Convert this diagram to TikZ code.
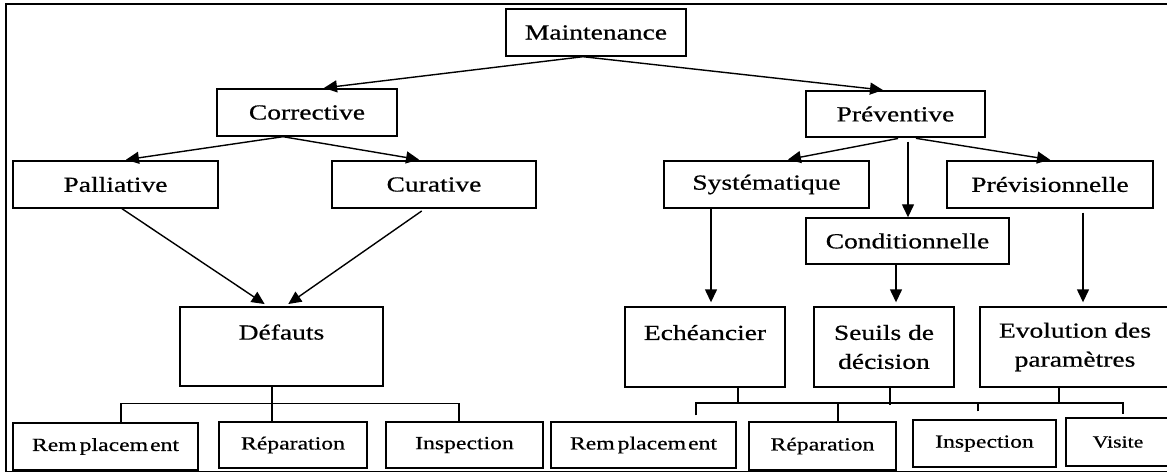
\documentclass[tikz,border=0pt]{standalone}
\usepackage{fontspec}
\setmainfont[FakeStretch=1.28, FakeBold=0.6]{Liberation Serif}
\usetikzlibrary{arrows.meta}
\begin{document}
\begin{tikzpicture}[x=1pt,y=-1pt,
  box/.style={draw, line width=1.4pt, fill=white, inner sep=0pt, align=center,
              font=\fontsize{21.5}{29}\selectfont},
  leaf/.style={box, font=\fontsize{18.5}{22}\selectfont},
  size/.style 2 args={minimum width=#1pt, minimum height=#2pt},
  link/.style={line width=1.4pt},
  arr/.style={link, -{Triangle[length=13pt,width=12pt]}},
]
\clip (0,0) rectangle (1167,473);
% outer frame
\draw[line width=1.8pt] (6,4) rectangle (1190,471.5);

% first levels
\node[box, size={180}{47}] (maint) at (596,32.5) {Maintenance};
\node[box, size={180}{47}] (corr) at (307,112.5) {Corrective};
\node[box, size={179}{46}] (prev) at (895.5,114) {Préventive};
\node[box, size={205}{47}] (pall) at (115.5,184.5) {Palliative};
\node[box, size={204}{47}] (cura) at (434,184.5) {Curative};
\node[box, size={205}{47}] (syst) at (766.5,184.5) {Systématique};
\node[box, size={206}{47}] (previs) at (1050,184.5) {Prévisionnelle};
\node[box, size={203}{46}] (cond) at (907.5,241) {Conditionnelle};

% decision level
\node[box, size={203}{79}] (def) at (281.5,346.5) {Défauts\\\mbox{}};
\node[box, size={160}{80}] (ech) at (705,347) {Echéancier\\\mbox{}};
\node[box, size={140}{80}] (seuil) at (884,347) {Seuils de\\décision};
\node[box, size={190}{80}] (evol) at (1075,347) {Evolution des\\paramètres};

% actions
\node[leaf, size={185}{47}] (rem1) at (105.5,446.5) {Rem\kern3pt placem\kern2pt ent};
\node[leaf, size={148}{46}] (rep1) at (293,445) {Réparation};
\node[leaf, size={157}{46}] (ins1) at (464.5,445) {Inspection};
\node[leaf, size={185}{46}] (rem2) at (643.5,445) {Rem\kern3pt placem\kern2pt ent};
\node[leaf, size={147}{48}] (rep2) at (822.5,446) {Réparation};
\node[leaf, size={143}{47}] (ins2) at (984.5,443.5) {Inspection};
\node[leaf, size={104}{48}, font=\fontsize{17}{20}\selectfont] (vis) at (1118,442) {Visite};

% arrows
\draw[arr, shorten >=3pt] ([xshift=-13pt]maint.south) -- ([xshift=14pt]corr.north);
\draw[arr, shorten >=2pt] ([xshift=-13pt]maint.south) -- ([xshift=-10.5pt]prev.north);
\draw[arr, shorten >=4pt] ([xshift=-24pt]corr.south) -- ([xshift=6.5pt]pall.north);
\draw[arr, shorten >=4pt] ([xshift=-24pt]corr.south) -- ([xshift=-11pt]cura.north);
\draw[arr, shorten <=4pt, shorten >=4pt] ([xshift=6.5pt]prev.south) -- ([xshift=17.5pt]syst.north);
\draw[arr, shorten <=4pt, shorten >=4pt] ([xshift=16.5pt]prev.south) -- ([xshift=4pt]previs.north);
\draw[arr, shorten <=4pt] ([xshift=12.5pt]prev.south) -- ([xshift=0.5pt]cond.north);
\draw[arr, shorten >=4pt] ([xshift=6.5pt]pall.south) -- ([xshift=-13.5pt]def.north);
\draw[arr, shorten <=4pt, shorten >=4pt] ([xshift=-9pt]cura.south) -- ([xshift=3.5pt]def.north);
\draw[arr, shorten >=4pt] ([xshift=-55.5pt]syst.south) -- ([xshift=6pt]ech.north);
\draw[arr, shorten >=4pt] ([xshift=-11.5pt]cond.south) -- ([xshift=12pt]seuil.north);
\draw[arr, shorten <=4pt, shorten >=4pt] ([xshift=33pt]previs.south) -- ([xshift=8pt]evol.north);

% corrective actions tree
\draw[link] ([xshift=-9.5pt]def.south) -- ([xshift=-21pt]rep1.north);
\draw[link] ([xshift=15.5pt]rem1.north) -- ++(0,-19) -| ([xshift=-5.5pt]ins1.north);

% preventive actions tree
\coordinate (bus) at (696,403);
\draw[link, shorten <=6pt, shorten >=3pt] ([xshift=52.5pt]rem2.north) -- (bus) -| ([xshift=5pt]vis.north);
\draw[link] ([xshift=15.5pt]rep2.north) -- ([xshift=15.5pt]rep2.north |- bus);
\draw[link, shorten <=8pt] ([xshift=-6.5pt]ins2.north) -- ([xshift=-6.5pt]ins2.north |- bus);
\draw[link] ([xshift=33pt]ech.south) -- ([xshift=33pt]ech.south |- bus);
\draw[link] ([xshift=6pt]seuil.south) -- ([xshift=6pt,yshift=-2pt]seuil.south |- bus);
\draw[link] ([xshift=-16pt]evol.south) -- ([xshift=-16pt]evol.south |- bus);
\end{tikzpicture}
\end{document}
